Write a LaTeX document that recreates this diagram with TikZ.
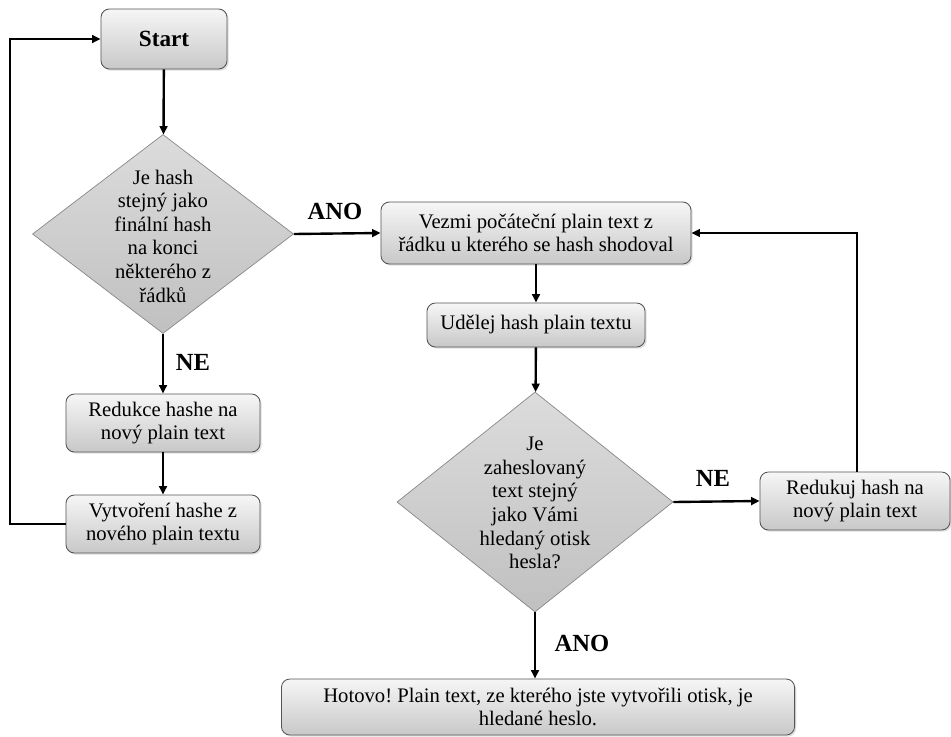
\documentclass[tikz,border=0pt]{standalone}
\usepackage{fontspec}
\setmainfont{Liberation Serif}
\frenchspacing
\usetikzlibrary{shapes,arrows,positioning,shadows,shapes.geometric,arrows.meta,calc}
\definecolor{BoxLine}{RGB}{85,85,85}
\definecolor{BoxTop}{RGB}{246,246,246}
\definecolor{BoxBottom}{RGB}{200,200,200}
\definecolor{DecTop}{RGB}{220,220,220}
\definecolor{DecBottom}{RGB}{192,192,192}
\tikzset{
  gbox/.style={draw=BoxLine,top color=BoxTop,bottom color=BoxBottom,rounded corners=6pt,
               font=\fontsize{14.7}{16.8}\selectfont,align=center,line width=0.6pt,
               drop shadow={opacity=0.25,shadow xshift=1.2pt,shadow yshift=-1.2pt}},
  dbox/.style={draw=BoxLine!70,top color=DecTop,bottom color=DecBottom,diamond,
               inner sep=0pt,line width=0.5pt},
  dtxt/.style={font=\fontsize{14.7}{16.8}\selectfont,align=center},
  lbl/.style={font=\fontsize{17.5}{20}\selectfont\bfseries},
  arr/.style={-{Triangle[length=6pt,width=5.5pt]},black,line width=1.7pt},
}
\begin{document}
\begin{tikzpicture}[x=0.025cm,y=-0.025cm]
        \useasboundingbox (0,0) rectangle (951,736);
        % left column
        \node[gbox,minimum width=3.15cm,minimum height=1.5cm,
              font=\fontsize{16.5}{19}\selectfont\bfseries] (start) at (164,39) {Start};
        \node[dbox,minimum width=6.525cm,minimum height=4.975cm] (dfin) at (163,234) {};
        \node[dtxt] (dfint) at (163,236) {Je hash\\stejný jako\\finální hash\\na konci\\některého z\\řádků};
        \node[gbox,minimum width=4.85cm,minimum height=1.45cm] (red) at (163,423) {Redukce hashe na\\nový plain text};
        \node[gbox,minimum width=4.85cm,minimum height=1.45cm] (mk) at (163,524) {Vytvoření hashe z\\nového plain textu};
        \coordinate (lloop) at (10,524);
        % right column
        \node[gbox,minimum width=7.75cm,minimum height=1.55cm] (take) at (536,233) {Vezmi počáteční plain text z\\řádku u kterého se hash shodoval};
        \node[gbox,minimum width=5.45cm,minimum height=1.1cm] (hsh) at (536,325) {Udělej hash plain textu};
        \node[dbox,minimum width=6.9cm,minimum height=5.5cm] (dpw) at (535,502) {};
        \node[dtxt] (dpwt) at (535,503) {Je\\zaheslovaný\\text stejný\\jako Vámi\\hledaný otisk\\hesla?};
        \node[gbox,minimum width=4.75cm,minimum height=1.45cm] (redr) at (855,501) {Redukuj hash na\\nový plain text};
        \node[gbox,minimum width=12.825cm,minimum height=1.4cm] (done) at (538,707) {Hotovo! Plain text, ze kterého jste vytvořili otisk, je\\hledané heslo.};
        \coordinate (rloop) at (857,233);
        % labels
        \node[lbl] (ano1) at (335,211) {ANO};
        \node[lbl] (ne1) at (193,362) {NE};
        \node[lbl] (ne2) at (713,478) {NE};
        \node[lbl] (ano2) at (582,643) {ANO};
        % connectors
        \draw[arr] (start)--(dfin);
        \draw[arr] (dfin)--(red);
        \draw[arr] (red)--(mk);
        \draw[arr] (mk.west)--(lloop)|-(start.west);
        \draw[arr] (dfin.east)--(take.west);
        \draw[arr] (take)--(hsh);
        \draw[arr] (hsh)--(dpw);
        \draw[arr] (dpw.east)--(redr.west);
        \draw[arr] (redr.north-|rloop)--(rloop)--(take.east);
        \draw[arr] (dpw.south)--(dpw.south|-done.north);
      \end{tikzpicture}
\end{document}
